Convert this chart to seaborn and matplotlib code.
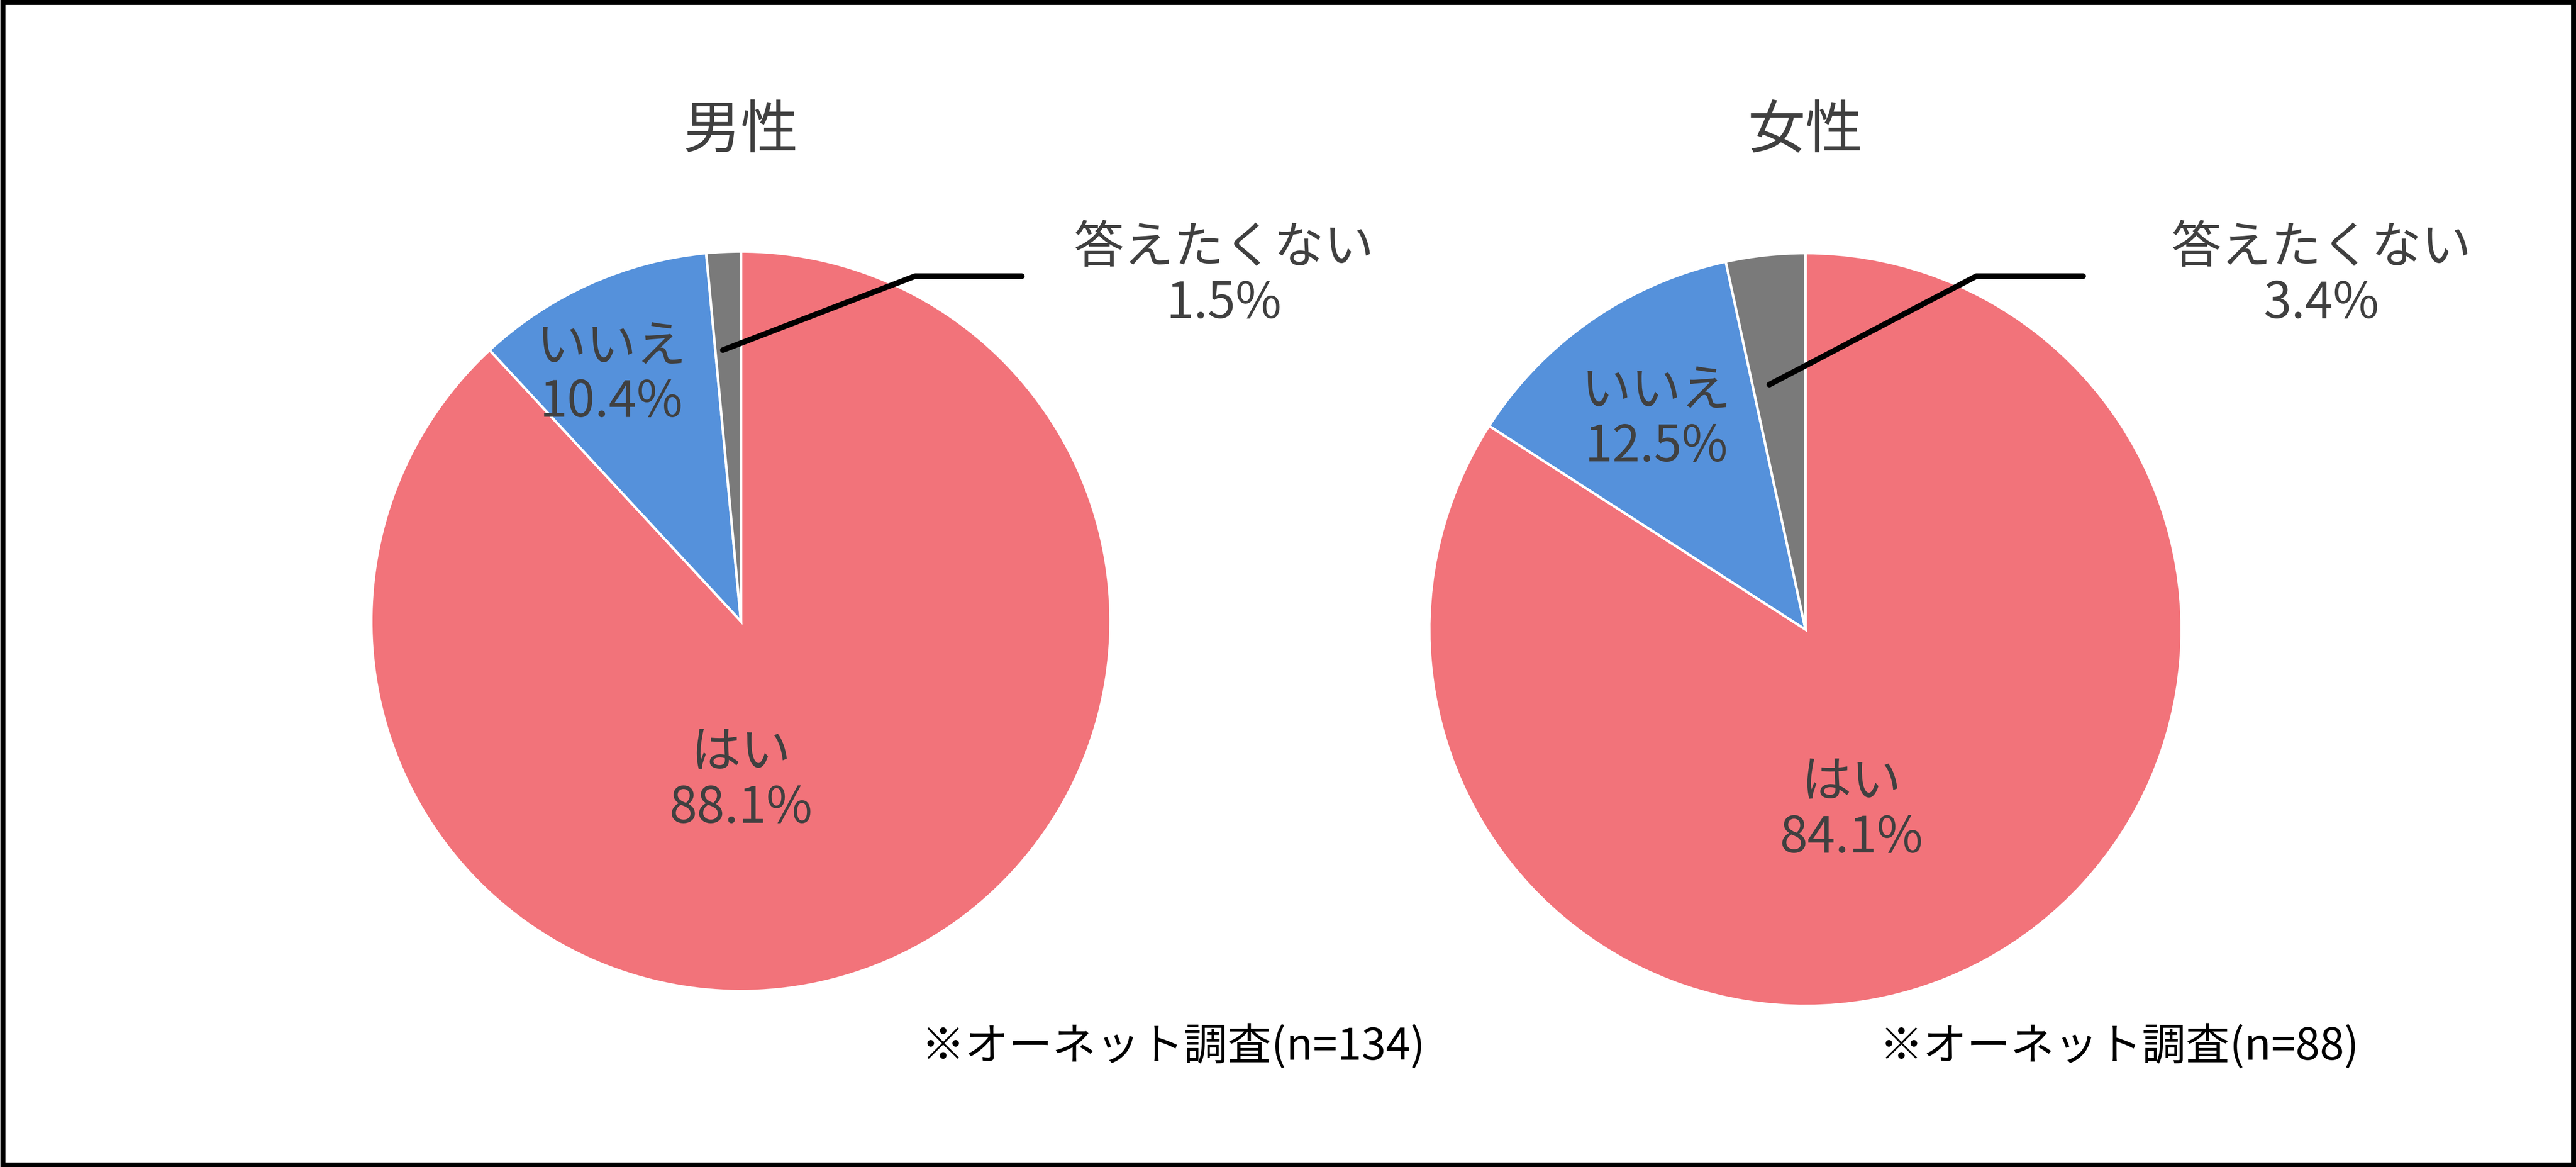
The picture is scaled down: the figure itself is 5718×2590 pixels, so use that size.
import matplotlib
matplotlib.use("Agg")
import matplotlib.pyplot as plt
import seaborn as sns
from matplotlib.lines import Line2D
from matplotlib.patches import Rectangle

sns.set_theme(style="white")
plt.rcParams['font.family'] = ['Noto Sans CJK JP', 'DejaVu Sans']

categories = ['はい', 'いいえ', '答えたくない']
male_values = [88.1, 10.4, 1.5]
female_values = [84.1, 12.5, 3.4]
titles = ['男性', '女性']
notes = ['※オーネット調査(n=134)', '※オーネット調査(n=88)']
colors = ['#F2737A', '#5591DB', '#7A7A7A']
text_color = '#404040'

W, H = 1568, 710  # layout units (reference scaled)
fig = plt.figure(figsize=(57.18, 25.90), dpi=100)


def fx(x):
    return x / W


def fy(y):
    return 1 - y / H


def draw_pie(values, cx, cy, r, title, note, lbl_pos, leader, no_pos, note_x):
    ax = fig.add_axes([fx(cx - r), fy(cy + r), 2 * r / W, 2 * r / H])
    ax.pie(values, colors=colors, startangle=90, counterclock=False,
           wedgeprops=dict(edgecolor='white', linewidth=4))
    ax.set_aspect('auto')
    ax.set_xlim(-1, 1)
    ax.set_ylim(-1, 1)
    fig.text(fx(cx), fy(80), title, ha='center', va='center', fontsize=92, color=text_color)
    for (x, y), cat, v in zip(lbl_pos, categories[:2], values[:2]):
        fig.text(fx(x), fy(y), f'{cat}\n{v}%', ha='center', va='center',
                 fontsize=80, color=text_color, linespacing=1.1)
    fig.text(fx(no_pos[0]), fy(no_pos[1]), f'{categories[2]}\n{values[2]}%', ha='center',
             va='center', fontsize=80, color=text_color, linespacing=1.1)
    xs = [fx(p[0]) for p in leader]
    ys = [fy(p[1]) for p in leader]
    fig.add_artist(Line2D(xs, ys, color='black', linewidth=9, transform=fig.transFigure))
    fig.text(fx(note_x), fy(637), note, ha='center', va='center', fontsize=70, color='black')


draw_pie(male_values, 451, 378, 225, titles[0], notes[0],
         [(451, 475), (372, 228)], [(440, 213), (557, 168), (622, 168)], (745, 168), 714)
draw_pie(female_values, 1099, 383, 229, titles[1], notes[1],
         [(1127, 493), (1008, 255)], [(1077, 234), (1203, 168), (1268, 168)], (1413, 168), 1290)

fig.add_artist(Rectangle((0.001, 0.002), 0.998, 0.996, transform=fig.transFigure,
                         fill=False, edgecolor='black', linewidth=8))

fig.savefig('out.png', dpi=100)
